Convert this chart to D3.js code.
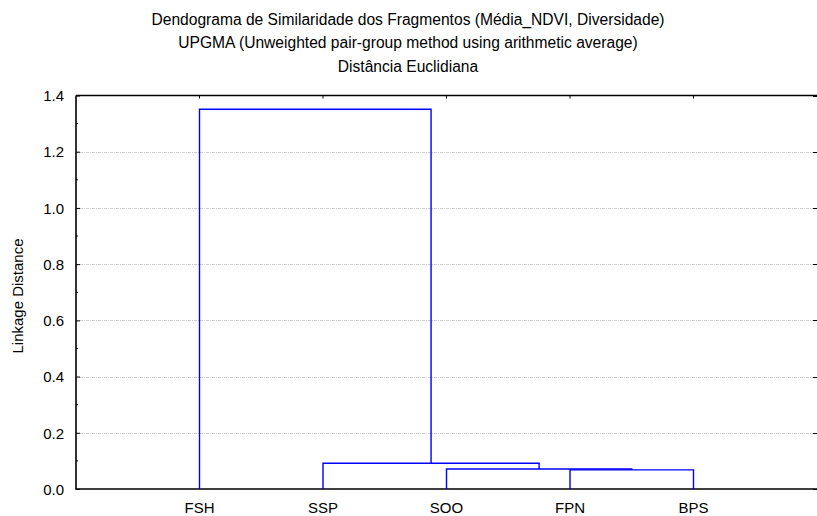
<!DOCTYPE html>
<html>
<head>
<meta charset="utf-8">
<script src="https://cdn.jsdelivr.net/npm/d3@7"></script>
<style>
  body { margin: 0; background: #fff; }
  text { font-family: "Liberation Sans", Arial, sans-serif; fill: #000; }
</style>
</head>
<body>
<div id="chart"></div>
<script>
// leaves in drawing order
var leaves = ["FSH", "SSP", "SOO", "FPN", "BPS"];
// joins: two members and the linkage distance
var joinA = ["FPN", "SOO", "SSP", "FSH"];
var joinB = ["BPS", "C1", "C2", "C3"];
var joinNames = ["C1", "C2", "C3", "C4"];
var joinHeights = [0.068, 0.071, 0.0915, 1.351];
var yTicks = [0.0, 0.2, 0.4, 0.6, 0.8, 1.0, 1.2, 1.4];
var titles = [
  "Dendograma de Similaridade dos Fragmentos (Média_NDVI, Diversidade)",
  "UPGMA (Unweighted pair-group method using arithmetic average)",
  "Distância Euclidiana"
];

var W = 817, H = 516;
var margin = {top: 95.5, right: 0, bottom: 27, left: 76};

var svg = d3.select("#chart").append("svg")
  .attr("width", W)
  .attr("height", H);

var x = d3.scalePoint()
  .domain(leaves)
  .range([margin.left, 817])
  .padding(1);

var y = d3.scaleLinear()
  .domain([0, 1.4])
  .range([H - margin.bottom, margin.top]);

// gridlines
svg.append("g")
  .selectAll("line")
  .data(yTicks.filter(function(d) { return d > 0 && d < 1.4; }))
  .join("line")
    .attr("x1", margin.left + 4)
    .attr("x2", 817)
    .attr("y1", function(d) { return Math.round(y(d)) + 0.5; })
    .attr("y2", function(d) { return Math.round(y(d)) + 0.5; })
    .attr("stroke", "#cfcfcf")
    .attr("stroke-width", 1)
    .attr("stroke-dasharray", "3,1,1,1");

// node positions
var pos = {};
leaves.forEach(function(l) { pos[l] = {x: x(l), h: 0}; });

var links = [];
joinNames.forEach(function(n, i) {
  var a = pos[joinA[i]], b = pos[joinB[i]];
  var h = joinHeights[i];
  pos[n] = {x: (a.x + b.x) / 2, h: h};
  links.push({a: a, b: b, h: h});
});

// frame and axes
var yAxisL = d3.axisLeft(y).tickValues(yTicks).tickSize(-4).tickPadding(12)
  .tickFormat(d3.format(".1f"));
var gl = svg.append("g")
  .attr("transform", "translate(" + margin.left + ",0)")
  .call(yAxisL);
gl.select(".domain").remove();
gl.selectAll(".tick line").attr("stroke", "#000");
gl.selectAll("text")
  .style("font-size", "15px")
  .attr("dy", "0.35em");

// minor ticks
svg.append("g")
  .selectAll("line")
  .data(d3.range(0.1, 1.4, 0.2))
  .join("line")
    .attr("x1", margin.left)
    .attr("x2", margin.left + 2)
    .attr("y1", function(d) { return y(d); })
    .attr("y2", function(d) { return y(d); })
    .attr("stroke", "#000");

// right ticks
svg.append("g")
  .selectAll("line")
  .data(yTicks)
  .join("line")
    .attr("x1", 813)
    .attr("x2", 817)
    .attr("y1", function(d) { return Math.round(y(d)) + 0.5; })
    .attr("y2", function(d) { return Math.round(y(d)) + 0.5; })
    .attr("stroke", "#000");

// top ticks
svg.append("g")
  .selectAll("line")
  .data(leaves)
  .join("line")
    .attr("x1", function(d) { return x(d); })
    .attr("x2", function(d) { return x(d); })
    .attr("y1", y(1.4))
    .attr("y2", y(1.4) + 3)
    .attr("stroke", "#000");

svg.append("path")
  .attr("d", "M" + margin.left + "," + y(1.4) + "H817M" + margin.left + "," + y(1.4) +
    "V" + y(0) + "H817")
  .attr("fill", "none")
  .attr("stroke", "#000")
  .attr("stroke-width", 1.6);

// dendrogram branches
svg.append("g")
  .selectAll("path")
  .data(links)
  .join("path")
    .attr("d", function(d) {
      return "M" + d.a.x + "," + y(d.a.h) +
        "V" + y(d.h) + "H" + d.b.x + "V" + y(d.b.h);
    })
    .attr("fill", "none")
    .attr("stroke", "#0000ff")
    .attr("stroke-width", 1.4);

// x labels
svg.append("g")
  .selectAll("text")
  .data(leaves)
  .join("text")
    .attr("x", function(d) { return x(d); })
    .attr("y", 513)
    .attr("text-anchor", "middle")
    .style("font-size", "15px")
    .text(function(d) { return d; });

// y label
svg.append("text")
  .attr("transform", "translate(23,296) rotate(-90)")
  .attr("text-anchor", "middle")
  .style("font-size", "15px")
  .text("Linkage Distance");

// titles
svg.append("g")
  .selectAll("text")
  .data(titles)
  .join("text")
    .attr("x", 408)
    .attr("y", function(d, i) { return 24.5 + i * 23.8; })
    .attr("text-anchor", "middle")
    .style("font-size", "15.6px")
    .text(function(d) { return d; });
</script>
</body>
</html>
